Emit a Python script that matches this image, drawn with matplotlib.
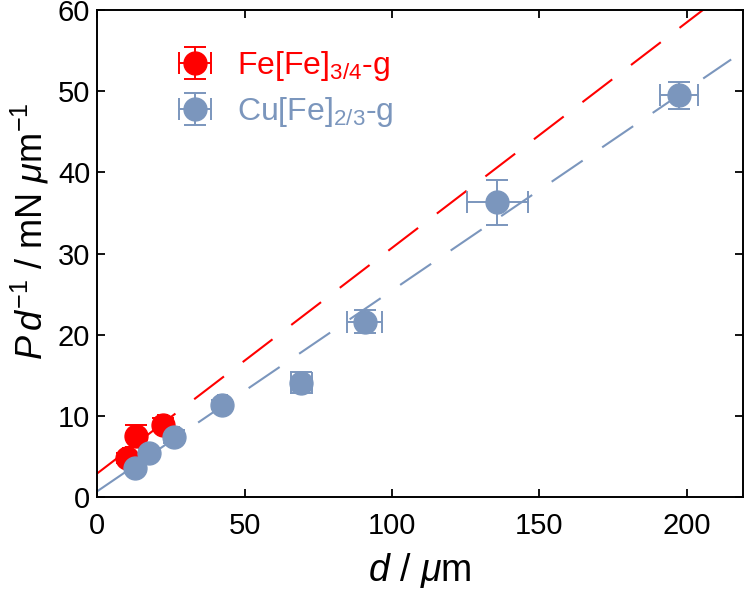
import matplotlib
matplotlib.use("Agg")
import matplotlib.pyplot as plt
import numpy as np

# ---- data ----
fe_x = [10.0, 13.3, 22.2]
fe_y = [4.8, 7.5, 8.9]
fe_xerr = [1.2, 1.5, 1.5]
fe_yerr = [0.6, 1.35, 0.8]

cu_x = [12.7, 17.5, 26.1, 42.4, 69.3, 90.7, 135.7, 197.3]
cu_y = [3.6, 5.4, 7.4, 11.4, 14.1, 21.6, 36.3, 49.5]
cu_xerr = [1.0, 1.0, 1.5, 1.5, 3.4, 5.8, 10.4, 6.6]
cu_yerr = [0.5, 0.6, 0.8, 0.5, 1.25, 1.4, 2.8, 1.65]

fe_fit = (2.9, 0.278)   # intercept, slope
cu_fit = (0.7, 0.2475)
fe_fit_range = (0, 218)
cu_fit_range = (0, 215)

xticks = [0, 50, 100, 150, 200]
yticks = [0, 10, 20, 30, 40, 50, 60]

red = '#ff0000'
blue = '#7b96bd'

plt.rcParams['font.family'] = ['Liberation Sans', 'DejaVu Sans']
plt.rcParams['mathtext.fontset'] = 'custom'
plt.rcParams['mathtext.rm'] = 'Liberation Sans'
plt.rcParams['mathtext.it'] = 'Liberation Sans:italic'
plt.rcParams['mathtext.bf'] = 'Liberation Sans:bold'
plt.rcParams['lines.scale_dashes'] = False

fig = plt.figure(figsize=(7.47, 5.91), dpi=100)
ax = fig.add_axes([0.130, 0.159, 0.8646, 0.824])

# fit lines
xf = np.linspace(*fe_fit_range, 200)
ax.plot(xf, fe_fit[0] + fe_fit[1] * xf, color=red, lw=1.5, dashes=(27, 17), zorder=1)
xc = np.linspace(*cu_fit_range, 200)
ax.plot(xc, cu_fit[0] + cu_fit[1] * xc, color=blue, lw=1.5, dashes=(27, 17), zorder=1)

ekw = dict(fmt='o', markersize=16.5, capsize=8, elinewidth=1.4, capthick=1.4, zorder=3)
e1 = ax.errorbar(fe_x, fe_y, xerr=fe_xerr, yerr=fe_yerr, color=red, label=r'Fe[Fe]$_{3/4}$-g', **ekw)
e2 = ax.errorbar(cu_x, cu_y, xerr=cu_xerr, yerr=cu_yerr, color=blue, label=r'Cu[Fe]$_{2/3}$-g', **ekw)

ax.set_xlim(0, 219)
ax.set_ylim(0, 60)
ax.set_xticks(xticks)
ax.set_yticks(yticks)
ax.tick_params(direction='in', length=6, width=1.3, labelsize=21, top=True, right=True)
ax.tick_params(axis='x', pad=10.5)
ax.tick_params(axis='y', pad=5)
for s in ax.spines.values():
    s.set_linewidth(1.4)

ax.set_xlabel(r'$d$ / $\mu$m', fontsize=27, labelpad=8)
ax.set_ylabel(r'$P\,d^{-1}$ / mN $\mu$m$^{-1}$', fontsize=26)
ax.yaxis.set_label_coords(-0.072, 0.545)

leg = ax.legend(loc='upper left', frameon=False, fontsize=23, handlelength=1.75,
                handletextpad=0.45, borderaxespad=0.4, labelspacing=0.38,
                bbox_to_anchor=(0.068, 0.972))
for t, c in zip(leg.get_texts(), [red, blue]):
    t.set_color(c)

fig.savefig('out.png', dpi=100)
